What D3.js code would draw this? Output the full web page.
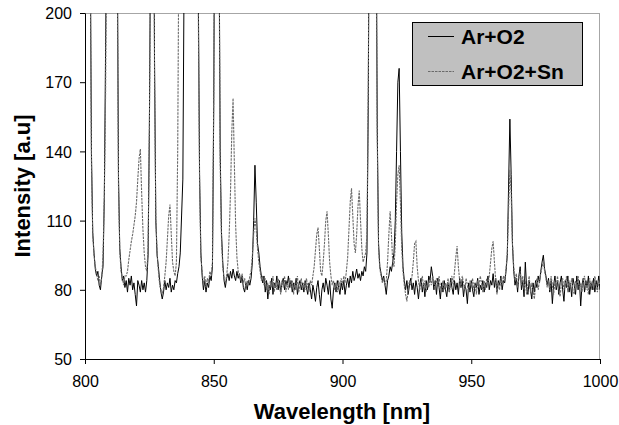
<!DOCTYPE html>
<html>
<head>
<meta charset="utf-8">
<script src="https://cdn.jsdelivr.net/npm/d3@7"></script>
<style>
  html, body { margin: 0; padding: 0; background: #fff; }
  svg { display: block; }
  text { font-family: "Liberation Sans", Arial, sans-serif; }
</style>
</head>
<body>
<script>
// ---- data (sampled every 0.5 nm from 800 to 1000 nm) ----
const xStart = 800, xStep = 0.5;
const xTicks = [800, 850, 900, 950, 1000];
const yTicks = [50, 80, 110, 140, 170, 200];
const seriesNames = ["Ar+O2", "Ar+O2+Sn"];

const arO2 = [
 220,300,350,320,240,140,105,96,89,86,
 88,82,80,86,90,120,185,260,330,360,
 400,420,380,400,330,240,130,98,90,84,
 86,81,84,79,85,82,86,80,83,78,
 73,84,82,79,84,80,83,79,84,95,
 150,240,330,320,180,110,95,90,84,79,
 76,79,84,80,83,81,85,79,82,80,
 84,83,87,90,96,112,128,220,320,360,
 380,420,400,360,380,420,360,280,210,130,
 96,86,80,84,79,83,81,86,84,90,
 160,290,350,330,250,140,105,92,84,81,
 85,87,84,88,85,89,86,84,88,85,
 87,83,86,81,79,83,80,84,82,85,
 92,110,134,118,100,96,90,86,83,86,
 79,84,76,82,80,85,78,83,81,86,
 80,84,79,83,85,80,84,82,86,81,
 84,79,83,80,85,78,82,84,80,83,
 79,84,81,78,83,80,76,82,79,75,
 81,84,78,73,80,83,79,85,82,78,
 84,76,72,80,83,79,84,81,78,83,
 80,84,78,82,85,81,86,83,88,84,
 86,89,85,87,84,88,86,90,88,96,
 160,280,380,420,450,380,260,150,100,90,
 87,84,86,82,78,84,86,90,88,92,
 96,110,140,170,176,140,105,90,84,80,
 84,78,82,85,80,83,78,84,81,76,
 82,85,79,83,77,84,80,86,84,90,
 86,80,84,78,85,81,76,83,79,84,
 80,77,83,79,85,81,78,84,80,83,
 78,85,81,84,77,82,80,74,83,79,
 84,80,77,83,81,85,78,82,80,84,
 79,83,81,86,80,84,82,87,81,85,
 79,84,82,86,80,84,83,88,95,125,
 154,130,100,88,82,85,79,86,90,80,
 84,77,92,81,78,84,80,76,83,79,
 84,81,86,83,88,92,95,89,86,82,
 85,79,84,74,82,86,80,84,78,83,
 86,80,75,84,81,86,79,83,77,85,
 82,78,86,80,84,73,82,85,79,84,
 81,86,78,83,80,85,79,84,81,86,
 80
];

const arO2Sn = [
 176,260,330,320,230,135,104,95,90,87,
 84,86,82,85,95,120,165,250,320,360,
 400,410,380,390,330,230,125,97,88,85,
 82,86,86,88,93,97,101,104,108,112,
 118,128,137,141,122,106,96,90,88,98,
 150,230,320,310,175,112,96,88,82,80,
 78,81,86,92,102,112,117,104,92,88,
 86,92,140,240,300,320,330,350,360,370,
 390,410,400,370,390,410,350,270,200,125,
 94,88,82,86,81,85,83,88,86,92,
 165,290,340,320,240,135,102,90,85,83,
 86,92,104,122,148,163,135,108,94,88,
 86,84,87,83,85,81,84,82,86,88,
 95,104,111,106,98,92,88,84,86,82,
 85,80,83,78,84,81,86,79,83,80,
 85,82,78,84,81,86,79,83,80,85,
 81,84,78,83,80,86,79,82,85,80,
 83,80,85,81,79,84,82,86,90,97,
 104,107,98,88,86,92,100,110,114,104,
 92,86,82,84,80,83,79,84,81,85,
 82,86,83,88,94,106,118,124,112,100,
 96,104,116,123,110,98,92,94,96,104,
 165,280,370,410,440,370,250,145,98,89,
 86,83,85,82,84,92,104,114,104,92,
 90,100,118,130,134,118,98,88,82,78,
 75,80,84,82,86,92,100,101,90,84,
 80,83,86,81,84,79,83,81,85,82,
 86,83,80,85,82,86,81,79,84,80,
 83,81,85,79,83,86,82,88,94,99,
 90,84,81,86,83,80,85,82,79,84,
 81,85,80,83,78,84,81,86,83,79,
 84,80,85,82,86,92,98,101,92,84,
 78,83,80,85,82,86,84,89,96,115,
 132,122,100,90,84,87,81,85,88,82,
 86,80,84,78,82,86,79,83,80,76,
 82,85,80,84,87,90,92,88,85,81,
 84,80,86,82,78,84,81,86,80,77,
 83,85,80,82,86,79,84,81,85,80,
 78,84,81,86,80,83,79,84,86,80,
 83,78,85,81,84,80,86,82,79,84,
 82
];

// ---- layout ----
const W = 619, H = 425;
const plot = { left: 85, right: 600, top: 13, bottom: 359 };
const grayStroke = "#6a6a6a", grayDash = "2.5,1";

const svg = d3.select("body").append("svg")
  .attr("width", W).attr("height", H);

const x = d3.scaleLinear().domain([800, 1000]).range([plot.left, plot.right]);
const y = d3.scaleLinear().domain([50, 200]).range([plot.bottom, plot.top]);

// plot frame (top & right in gray)
svg.append("line").attr("x1", plot.left).attr("x2", plot.right)
  .attr("y1", plot.top + 0.5).attr("y2", plot.top + 0.5)
  .attr("stroke", "#a6a6a6").attr("stroke-width", 1);
svg.append("line").attr("x1", plot.right - 0.5).attr("x2", plot.right - 0.5)
  .attr("y1", plot.top).attr("y2", plot.bottom)
  .attr("stroke", "#a6a6a6").attr("stroke-width", 1);

// clip
svg.append("defs").append("clipPath").attr("id", "clip")
  .append("rect").attr("x", plot.left).attr("y", plot.top)
  .attr("width", plot.right - plot.left).attr("height", plot.bottom - plot.top);

const toPts = arr => arr.map((v, i) => [xStart + i * xStep, v]);
const line = d3.line().x(d => x(d[0])).y(d => y(d[1]));

const g = svg.append("g").attr("clip-path", "url(#clip)");
g.append("path").datum(toPts(arO2))
  .attr("d", line).attr("fill", "none")
  .attr("stroke", "#000").attr("stroke-width", 1);
g.append("path").datum(toPts(arO2Sn))
  .attr("d", line).attr("fill", "none")
  .attr("stroke", grayStroke).attr("stroke-width", 1.1)
  .attr("stroke-dasharray", grayDash);

// axes
const xAxis = d3.axisBottom(x).tickValues(xTicks).tickSize(5).tickSizeOuter(0).tickFormat(d3.format("d"));
const yAxis = d3.axisLeft(y).tickValues(yTicks).tickSize(5).tickSizeOuter(0).tickFormat(d3.format("d"));

const gx = svg.append("g").attr("transform", `translate(0,${plot.bottom})`).call(xAxis);
const gy = svg.append("g").attr("transform", `translate(${plot.left},0)`).call(yAxis);
[gx, gy].forEach(a => {
  a.select(".domain").attr("stroke", "#000");
  a.selectAll(".tick line").attr("stroke", "#000");
  a.selectAll(".tick text").attr("fill", "#000")
    .style("font-size", "16px").style("font-family", "'Liberation Sans', Arial, sans-serif");
});
gx.selectAll(".tick text").attr("dy", "1.25em");
gy.selectAll(".tick text").attr("x", -13).attr("dy", "0.36em");

// axis titles
svg.append("text").attr("x", 342).attr("y", 419)
  .attr("text-anchor", "middle").style("font-size", "22px").style("font-weight", "bold")
  .text("Wavelength [nm]");
svg.append("text")
  .attr("transform", `translate(30,186) rotate(-90)`)
  .attr("text-anchor", "middle").style("font-size", "22px").style("font-weight", "bold")
  .text("Intensity [a.u]");

// legend
const lg = svg.append("g");
lg.append("rect").attr("x", 412.5).attr("y", 22.5).attr("width", 170).attr("height", 63)
  .attr("fill", "#c0c0c0").attr("stroke", "#000").attr("stroke-width", 1);
const entries = [
  { name: seriesNames[0], stroke: "#000", dash: null, y: 36 },
  { name: seriesNames[1], stroke: grayStroke, dash: grayDash, y: 71 }
];
entries.forEach(e => {
  lg.append("line").attr("x1", 428).attr("x2", 454).attr("y1", e.y + 0.5).attr("y2", e.y + 0.5)
    .attr("stroke", e.stroke).attr("stroke-width", 1).attr("stroke-dasharray", e.dash);
  lg.append("text").attr("x", 461).attr("y", e.y + 7.5)
    .style("font-size", "21px").style("font-weight", "bold").text(e.name);
});
</script>
</body>
</html>
